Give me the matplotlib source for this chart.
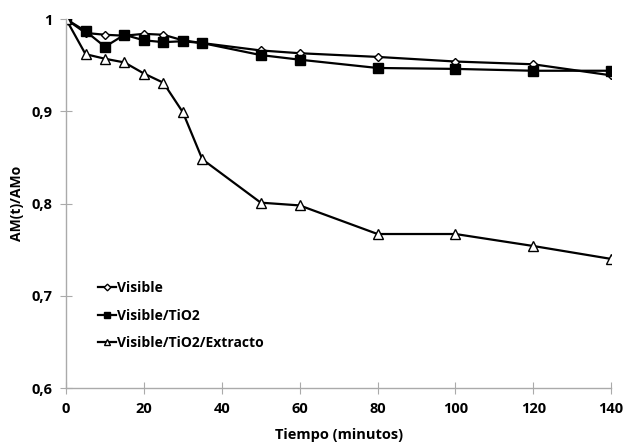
import numpy as np
import matplotlib.pyplot as plt
from matplotlib.ticker import FuncFormatter

# Tiempo en minutos
tiempo = [0, 5, 10, 15, 20, 25, 30, 35, 50, 60, 80, 100, 120, 140]

visible = [1.0, 0.985, 0.983, 0.982, 0.984, 0.983, 0.977, 0.974, 0.966, 0.963, 0.959, 0.954, 0.951, 0.939]
visible_tio2 = [1.0, 0.987, 0.970, 0.983, 0.977, 0.975, 0.976, 0.974, 0.961, 0.956, 0.947, 0.946, 0.944, 0.944]
visible_tio2_extracto = [1.0, 0.962, 0.957, 0.953, 0.941, 0.931, 0.899, 0.848, 0.801, 0.798, 0.767, 0.767, 0.754, 0.740]

x_ticks = [0, 20, 40, 60, 80, 100, 120, 140]
y_ticks = [0.6, 0.7, 0.8, 0.9, 1.0]

plt.rcParams['font.family'] = ['Open Sans', 'DejaVu Sans']

fig = plt.figure(figsize=(6.23, 4.44), dpi=100)
ax = fig.add_axes([0.106, 0.126, 0.875, 0.831])

ax.plot(tiempo, visible, color='black', lw=1.6, marker='D', ms=4.5,
        mfc='white', mec='black', mew=1, label='Visible')
ax.plot(tiempo, visible_tio2, color='black', lw=1.6, marker='s', ms=6.5,
        mfc='black', mec='black', label='Visible/TiO2')
ax.plot(tiempo, visible_tio2_extracto, color='black', lw=1.6, marker='^', ms=6.5,
        mfc='white', mec='black', mew=1, label='Visible/TiO2/Extracto')

ax.set_xlim(0, 140)
ax.set_ylim(0.6, 1.0)
ax.set_xticks(x_ticks)
ax.set_yticks(y_ticks)

def fmt(v, pos):
    s = f'{v:.1f}'.replace('.', ',')
    return '1' if abs(v - 1) < 1e-9 else s

ax.yaxis.set_major_formatter(FuncFormatter(fmt))

for s in ['top', 'right']:
    ax.spines[s].set_visible(False)
for s in ['left', 'bottom']:
    ax.spines[s].set_color('#aaaaaa')
    ax.spines[s].set_linewidth(1)
ax.tick_params(direction='inout', length=8, color='#aaaaaa', labelsize=10.5, pad=6)
for lab in ax.get_xticklabels() + ax.get_yticklabels():
    lab.set_fontweight('bold')

ax.set_xlabel('Tiempo (minutos)', fontsize=10.5, fontweight='bold', labelpad=9)
ax.set_ylabel('AM(t)/AMo', fontsize=10, fontweight='bold', labelpad=5)

ax.legend(loc='lower left', bbox_to_anchor=(0.035, 0.07), frameon=False,
          handlelength=1.3, handletextpad=0.1, labelspacing=0.95,
          markerscale=0.75, prop={'weight': 'bold', 'size': 10})

fig.savefig('out.png', dpi=100)
